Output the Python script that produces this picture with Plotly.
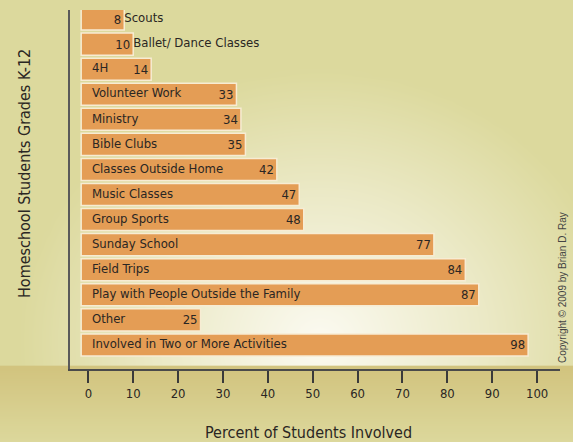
import numpy as np
import plotly.graph_objects as go

categories = ["Scouts", "Ballet/ Dance Classes", "4H", "Volunteer Work", "Ministry",
              "Bible Clubs", "Classes Outside Home", "Music Classes", "Group Sports",
              "Sunday School", "Field Trips", "Play with People Outside the Family",
              "Other", "Involved in Two or More Activities"]
values = [8, 10, 14, 33, 34, 35, 42, 47, 48, 77, 84, 87, 25, 98]
outside_labels = ["Scouts", "Ballet/ Dance Classes"]
tick_vals = [0, 10, 20, 30, 40, 50, 60, 70, 80, 90, 100]

W, H = 573, 442
BASE = -1.6
LABEL_PAD = 0.8
FONT = "DejaVu Sans Condensed, Liberation Sans Narrow, sans-serif"
TXT = "#2a2623"

fig = go.Figure()

# ---- decorative background (pixel-space hidden axes) ----
gx = np.linspace(0, W, 60)
gy_top = np.linspace(0, 369, 40)
XX, YY = np.meshgrid(gx, gy_top)
t = np.sqrt(((XX - 320) / 300) ** 2 + ((YY - 340) / 270) ** 2)
ztop = np.clip(1 - t, 0, 1)
fig.add_trace(go.Heatmap(x=gx, y=gy_top, z=ztop, zsmooth="best", showscale=False,
                         colorscale=[[0, "#dcd99d"], [0.45, "#ebe9c6"], [1, "#fbfaf1"]],
                         zmin=0, zmax=1, hoverinfo="skip", xaxis="x", yaxis="y"))
gy_bot = np.linspace(369, H, 12)
XB, YB = np.meshgrid(gx, gy_bot)
zbot = (YB - 369) / (H - 369)
fig.add_trace(go.Heatmap(x=gx, y=gy_bot, z=zbot, zsmooth="best", showscale=False,
                         colorscale=[[0, "#d2c47f"], [1, "#dcd89c"]],
                         zmin=0, zmax=1, hoverinfo="skip", xaxis="x", yaxis="y"))

# ---- bars ----
fig.add_trace(go.Bar(
    y=categories, x=[v - BASE for v in values], base=BASE, orientation="h",
    marker=dict(color="#e49d55", line=dict(color="#f7ecd3", width=1.5)),
    text=[str(v) for v in values], textposition="inside", insidetextanchor="end",
    textangle=0, constraintext="none",
    insidetextfont=dict(family=FONT, size=13, color=TXT),
    hoverinfo="skip", xaxis="x2", yaxis="y2", cliponaxis=False))

# category labels
lab_x = [v if c in outside_labels else LABEL_PAD for c, v in zip(categories, values)]
fig.add_trace(go.Scatter(
    x=lab_x, y=categories, mode="text", text=categories, textposition="middle right",
    textfont=dict(family=FONT, size=13, color=TXT), hoverinfo="skip",
    xaxis="x2", yaxis="y2", cliponaxis=False))

fig.update_layout(
    width=W, height=H, margin=dict(l=0, r=0, t=0, b=0),
    paper_bgcolor="#dcd99d", plot_bgcolor="rgba(0,0,0,0)", showlegend=False,
    bargap=0.12,
    xaxis=dict(domain=[0, 1], range=[0, W], visible=False, fixedrange=True),
    yaxis=dict(domain=[0, 1], range=[H, 0], visible=False, fixedrange=True),
    xaxis2=dict(domain=[69.5 / W, 560 / W], range=[-4.2, 105.1], anchor="y2",
                tickvals=tick_vals, ticks="outside", ticklen=12, tickwidth=1.5,
                tickcolor="#3a3a3a", showline=True, linecolor="#4a4a4a", linewidth=1.5,
                showgrid=False, zeroline=False,
                tickfont=dict(family=FONT, size=13, color=TXT)),
    yaxis2=dict(domain=[1 - 369 / H, 1 - 10 / H], range=[13.96, -0.36], anchor="x2",
                type="category", categoryarray=categories, showticklabels=False,
                ticks="", showline=True, linecolor="#5a5a5a", linewidth=1.5,
                showgrid=False, zeroline=False),
    annotations=[
        dict(text="Homeschool Students Grades K-12", x=25 / W, y=1 - 174 / H,
             xref="paper", yref="paper", textangle=-90, showarrow=False,
             xanchor="center", yanchor="middle",
             font=dict(family=FONT, size=16, color=TXT)),
        dict(text="Percent of Students Involved", x=308 / W, y=1 - 432 / H,
             xref="paper", yref="paper", showarrow=False,
             xanchor="center", yanchor="middle",
             font=dict(family=FONT, size=16, color=TXT)),
        dict(text="Copyright © 2009 by Brian D. Ray", x=562 / W, y=1 - 288 / H,
             xref="paper", yref="paper", textangle=-90, showarrow=False,
             xanchor="center", yanchor="middle",
             font=dict(family="Liberation Sans, Arial, sans-serif", size=10, color="#444444")),
    ],
)

fig.write_html("out.html", config={"displayModeBar": False},
               post_script="document.body.style.margin='0';document.body.style.overflow='hidden';")
